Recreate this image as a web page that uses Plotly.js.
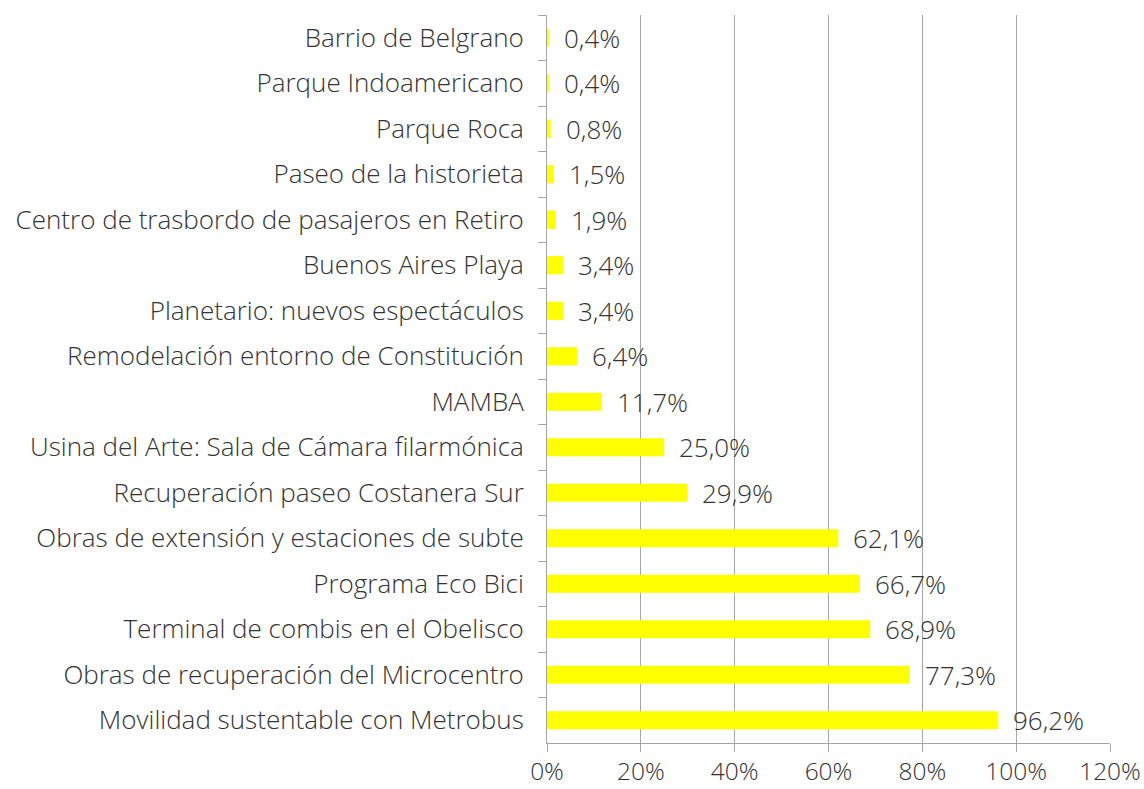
<!DOCTYPE html>
<html>
<head>
<meta charset="utf-8">
<script src="https://cdn.plot.ly/plotly-3.0.1.min.js"></script>
<style>html,body{margin:0;padding:0;background:#fff;}#chart{width:1144px;height:789px;}</style>
</head>
<body>
<div id="chart"></div>
<script>
const categories = [
  "Barrio de Belgrano",
  "Parque Indoamericano",
  "Parque Roca",
  "Paseo de la historieta",
  "Centro de trasbordo de pasajeros en Retiro",
  "Buenos Aires Playa",
  "Planetario: nuevos espectáculos",
  "Remodelación entorno de Constitución",
  "MAMBA",
  "Usina del Arte: Sala de Cámara filarmónica",
  "Recuperación paseo Costanera Sur",
  "Obras de extensión y estaciones de subte",
  "Programa Eco Bici",
  "Terminal de combis en el Obelisco",
  "Obras de recuperación del Microcentro",
  "Movilidad sustentable con Metrobus"
];
const values = [0.4, 0.4, 0.8, 1.5, 1.9, 3.4, 3.4, 6.4, 11.7, 25.0, 29.9, 62.1, 66.7, 68.9, 77.3, 96.2];
const xTicks = [0, 20, 40, 60, 80, 100, 120];

const FONT = "'Open Sans', 'Noto Sans', sans-serif";
const TXT = "#333333";
const GRID = "#a6a6a6";

const labels = values.map(v => v.toFixed(1).replace('.', ',') + '%');

const trace = {
  type: 'bar',
  orientation: 'h',
  x: values,
  y: categories,
  width: 0.4,
  marker: {color: '#ffff00'},
  hoverinfo: 'none'
};

const annotations = values.map((v, i) => ({
  x: v, y: categories[i], xref: 'x', yref: 'y',
  text: labels[i], showarrow: false, xanchor: 'left', xshift: 13,
  font: {family: FONT, size: 26, color: TXT, weight: 300}
}));

const layout = {
  width: 1144, height: 789,
  margin: {l: 547, r: 34, t: 15, b: 46},
  paper_bgcolor: '#fff', plot_bgcolor: '#fff',
  showlegend: false,
  font: {family: FONT, size: 26, color: TXT, weight: 300},
  xaxis: {
    range: [0, 120],
    tickvals: xTicks,
    ticktext: xTicks.map(t => t + '%'),
    showgrid: true, gridcolor: GRID, gridwidth: 1,
    showline: true, linecolor: GRID, linewidth: 1,
    ticks: 'outside', ticklen: 8, tickcolor: GRID,
    zeroline: false,
    tickfont: {family: FONT, size: 24.5, color: TXT, weight: 300},
    ticklabelstandoff: -1,
    fixedrange: true
  },
  yaxis: {
    type: 'category',
    autorange: 'reversed',
    showline: true, linecolor: GRID, linewidth: 1,
    ticks: 'outside', ticklen: 8, tickcolor: GRID, tickson: 'boundaries',
    showgrid: false,
    tickfont: {family: FONT, size: 26, color: TXT, weight: 300},
    ticklabelstandoff: 17,
    fixedrange: true
  },
  annotations: annotations
};

Plotly.newPlot('chart', [trace], layout, {staticPlot: true, displayModeBar: false});
</script>
</body>
</html>
